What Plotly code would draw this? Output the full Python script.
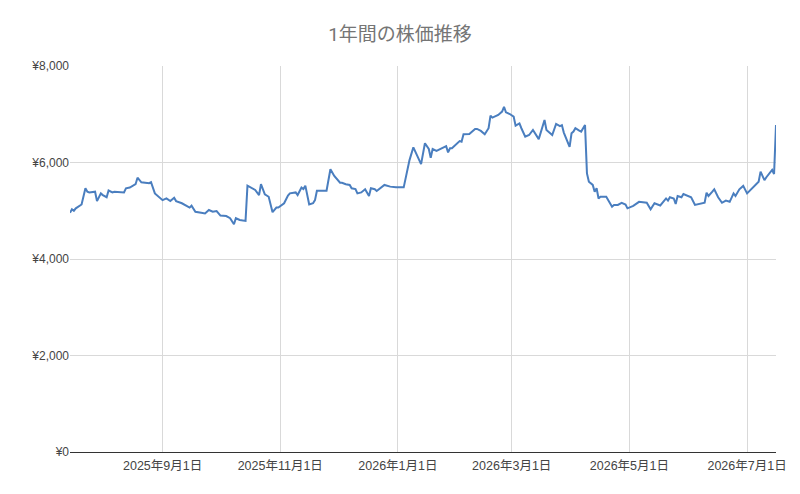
import plotly.graph_objects as go

title_text = "1年間の株価推移"

dates = [
    "2025-07-15", "2025-07-16", "2025-07-17", "2025-07-18", "2025-07-21", "2025-07-23", "2025-07-24", "2025-07-25",
    "2025-07-28", "2025-07-29", "2025-07-31", "2025-08-01", "2025-08-03", "2025-08-04", "2025-08-06", "2025-08-07",
    "2025-08-12", "2025-08-13", "2025-08-15", "2025-08-18", "2025-08-19", "2025-08-21", "2025-08-25", "2025-08-26",
    "2025-08-28", "2025-08-30", "2025-09-01", "2025-09-03", "2025-09-05", "2025-09-07", "2025-09-08", "2025-09-11",
    "2025-09-15", "2025-09-16", "2025-09-18", "2025-09-21", "2025-09-23", "2025-09-25", "2025-09-27", "2025-09-29",
    "2025-10-01", "2025-10-04", "2025-10-06", "2025-10-08", "2025-10-09", "2025-10-11", "2025-10-14", "2025-10-15",
    "2025-10-17", "2025-10-19", "2025-10-21", "2025-10-22", "2025-10-24", "2025-10-26", "2025-10-28", "2025-10-30",
    "2025-10-31", "2025-11-03", "2025-11-05", "2025-11-06", "2025-11-09", "2025-11-10", "2025-11-12", "2025-11-13",
    "2025-11-14", "2025-11-16", "2025-11-18", "2025-11-19", "2025-11-20", "2025-11-25", "2025-11-27", "2025-11-29",
    "2025-12-02", "2025-12-03", "2025-12-05", "2025-12-07", "2025-12-08", "2025-12-10", "2025-12-11", "2025-12-13",
    "2025-12-15", "2025-12-17", "2025-12-18", "2025-12-20", "2025-12-21", "2025-12-25", "2025-12-28", "2025-12-31",
    "2026-01-04", "2026-01-06", "2026-01-07", "2026-01-09", "2026-01-11", "2026-01-13", "2026-01-15", "2026-01-17",
    "2026-01-18", "2026-01-19", "2026-01-21", "2026-01-23", "2026-01-26", "2026-01-27", "2026-01-28", "2026-01-29",
    "2026-01-31", "2026-02-02", "2026-02-03", "2026-02-04", "2026-02-07", "2026-02-08", "2026-02-10", "2026-02-11",
    "2026-02-13", "2026-02-15", "2026-02-17", "2026-02-18", "2026-02-19", "2026-02-22", "2026-02-24", "2026-02-25",
    "2026-02-26", "2026-02-28", "2026-03-02", "2026-03-03", "2026-03-05", "2026-03-06", "2026-03-08", "2026-03-10",
    "2026-03-12", "2026-03-15", "2026-03-18", "2026-03-19", "2026-03-22", "2026-03-24", "2026-03-26", "2026-03-27",
    "2026-03-28", "2026-03-31", "2026-04-01", "2026-04-02", "2026-04-03", "2026-04-05", "2026-04-06", "2026-04-08",
    "2026-04-09", "2026-04-10", "2026-04-12", "2026-04-13", "2026-04-14", "2026-04-15", "2026-04-16", "2026-04-19",
    "2026-04-22", "2026-04-23", "2026-04-25", "2026-04-27", "2026-04-29", "2026-04-30", "2026-05-03", "2026-05-06",
    "2026-05-10", "2026-05-12", "2026-05-14", "2026-05-17", "2026-05-19", "2026-05-20", "2026-05-21", "2026-05-22",
    "2026-05-24", "2026-05-25", "2026-05-26", "2026-05-28", "2026-05-29", "2026-05-31", "2026-06-02", "2026-06-04",
    "2026-06-07", "2026-06-09", "2026-06-10", "2026-06-11", "2026-06-13", "2026-06-14", "2026-06-16", "2026-06-18",
    "2026-06-20", "2026-06-22", "2026-06-24", "2026-06-25", "2026-06-27", "2026-06-29", "2026-07-01", "2026-07-04",
    "2026-07-05", "2026-07-07", "2026-07-08", "2026-07-10", "2026-07-11", "2026-07-13", "2026-07-14", "2026-07-15",
    "2026-07-16",
]

prices = [
    4960, 5030, 5000, 5050, 5130, 5465, 5395, 5380,
    5395, 5200, 5360, 5325, 5280, 5420, 5380, 5395,
    5380, 5465, 5480, 5550, 5685, 5590, 5570, 5590,
    5360, 5280, 5220, 5255, 5200, 5270, 5200, 5155,
    5065, 5105, 4980, 4960, 4945, 5015, 4980, 4995,
    4900, 4890, 4845, 4720, 4845, 4810, 4790, 5520,
    5480, 5430, 5325, 5550, 5340, 5290, 4970, 5065,
    5065, 5155, 5315, 5360, 5380, 5325, 5480, 5450,
    5520, 5130, 5155, 5220, 5415, 5415, 5860, 5720,
    5580, 5580, 5550, 5535, 5465, 5450, 5360, 5380,
    5445, 5305, 5465, 5445, 5410, 5535, 5500, 5485,
    5485, 5915, 6050, 6315, 6135, 5965, 6400, 6280,
    6100, 6280, 6240, 6280, 6340, 6210, 6295, 6295,
    6360, 6445, 6430, 6585, 6590, 6625, 6695, 6695,
    6655, 6585, 6710, 6970, 6930, 6985, 7055, 7155,
    7040, 7005, 6950, 6765, 6810, 6710, 6535, 6570,
    6675, 6485, 6880, 6675, 6570, 6800, 6755, 6775,
    6620, 6325, 6605, 6640, 6710, 6660, 6640, 6775,
    5775, 5600, 5535, 5395, 5465, 5255, 5290, 5290,
    5085, 5120, 5120, 5165, 5130, 5050, 5100, 5185,
    5165, 5030, 5155, 5110, 5210, 5255, 5210, 5280,
    5255, 5140, 5305, 5280, 5345, 5305, 5280, 5120,
    5155, 5165, 5375, 5305, 5395, 5445, 5280, 5165,
    5210, 5185, 5360, 5305, 5445, 5515, 5360, 5485,
    5535, 5600, 5810, 5635, 5695, 5810, 5845, 5760,
    6775,
]

x_tick_vals = ["2025-09-01", "2025-11-01", "2026-01-01", "2026-03-01", "2026-05-01", "2026-07-01"]
x_tick_text = ["2025年9月1日", "2025年11月1日", "2026年1月1日", "2026年3月1日", "2026年5月1日", "2026年7月1日"]
y_tick_vals = [0, 2000, 4000, 6000, 8000]
y_tick_text = ["¥0", "¥2,000", "¥4,000", "¥6,000", "¥8,000"]

font_family = "'Liberation Sans', Arial, 'Noto Sans CJK JP', sans-serif"
title_family = "Roboto, 'Noto Sans CJK JP', sans-serif"

fig = go.Figure()
fig.add_trace(go.Scatter(
    x=dates, y=prices, mode="lines",
    line=dict(color="#4a7ebf", width=2),
    hoverinfo="x+y", showlegend=False,
))

fig.update_layout(
    width=800, height=494,
    margin=dict(l=70, r=24, t=66, b=42),
    paper_bgcolor="white", plot_bgcolor="white",
    title=dict(text=title_text, x=0.5, xanchor="center", y=0.93, yanchor="middle",
               font=dict(family=title_family, size=19, color="#757575")),
    font=dict(family=font_family, size=12, color="#444444"),
)

fig.update_xaxes(
    type="date",
    range=[dates[0], dates[-1]],
    tickvals=x_tick_vals, ticktext=x_tick_text,
    showgrid=True, gridcolor="#d9d9d9", gridwidth=1,
    zeroline=False, showline=False, ticks="",
    ticklabelstandoff=4,
    tickfont=dict(size=12.5, color="#444444"),
)
fig.update_yaxes(
    range=[0, 8000],
    tickvals=y_tick_vals, ticktext=y_tick_text,
    showgrid=True, gridcolor="#d9d9d9", gridwidth=1,
    zeroline=True, zerolinecolor="#333333", zerolinewidth=1,
    showline=False, ticks="",
    tickfont=dict(size=12, color="#444444"),
)

fig.write_html("out.html")
